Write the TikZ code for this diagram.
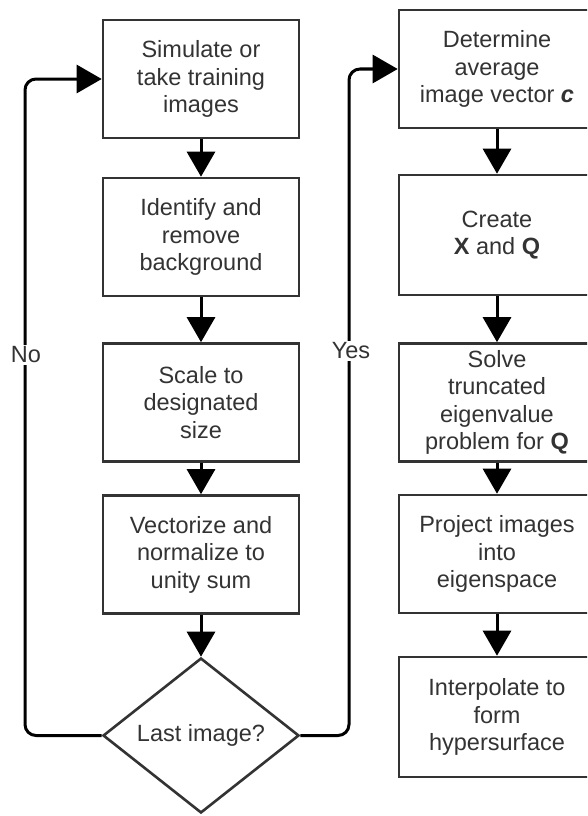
\documentclass[tikz,border=0pt]{standalone}
\usepackage{fontspec}
\setmainfont{Liberation Sans}
\usetikzlibrary{shapes.geometric,arrows.meta}
\definecolor{ink}{HTML}{333333}
\begin{document}
\begin{tikzpicture}[x=1pt,y=-1pt,
  stepbox/.style={draw=ink,line width=2.6pt,minimum width=196pt,minimum height=118pt,
    inner sep=0pt,align=center,text=ink,font=\fontsize{23.5}{27.5}\selectfont},
  decision/.style={draw=ink,line width=2.6pt,shape=diamond,aspect=1.26,
    minimum width=196pt,minimum height=155pt,inner sep=0pt,text=ink,
    font=\fontsize{23.5}{27.5}\selectfont},
  conn/.style={draw=black,line width=3pt,-{Triangle[width=28pt,length=25pt]}},
  loop/.style={conn,rounded corners=11pt},
  tag/.style={fill=white,text=ink,inner sep=2pt,font=\fontsize{23.5}{27.5}\selectfont}]
\clip (0,0) rectangle (587,816);
\fill[white] (0,0) rectangle (587,816);

% left column: preparing the training images
\node[stepbox] (L1) at (201,79)    {Simulate or\\take training\\images};
\node[stepbox] (L2) at (201,237)   {Identify and\\remove\\background};
\node[stepbox] (L3) at (201,402.5) {Scale to\\designated\\size};
\node[stepbox] (L4) at (201,554.5) {Vectorize and\\normalize to\\unity sum};
\node[decision] (D) at (201,735.5) {Last image?};

% right column: building the eigenspace
\node[stepbox] (R1) at (497,69)    {Determine\\average\\image vector \textbf{\textit{c}}};
\node[stepbox,minimum height=120pt] (R2) at (497,235) {Create\\\textbf{X} and \textbf{Q}};
\node[stepbox] (R3) at (497,402.5) {Solve\\truncated\\eigenvalue\\problem for \textbf{Q}};
\node[stepbox] (R4) at (497,554)   {Project images\\into\\eigenspace};
\node[stepbox,minimum height=120pt] (R5) at (497,717) {Interpolate to\\form\\hypersurface};

% straight connectors
\draw[conn] (L1) -- (L2);
\draw[conn] (L2) -- (L3);
\draw[conn] (L3) -- (L4);
\draw[conn] (L4) -- (D);
\draw[conn] (R1) -- (R2);
\draw[conn] (R2) -- (R3);
\draw[conn] (R3) -- (R4);
\draw[conn] (R4) -- (R5);

% loop back and exit of the decision
\coordinate (noturn) at (25,79);
\coordinate (yesturn) at (349,69);
\draw[loop] (D.west) -| (noturn) -- (L1.west);
\draw[loop] (D.east) -| (yesturn) -- (R1.west);
\node[tag] (no) at (26,355) {No};
\node[tag] (yes) at (351,351) {Yes};
\end{tikzpicture}
\end{document}
